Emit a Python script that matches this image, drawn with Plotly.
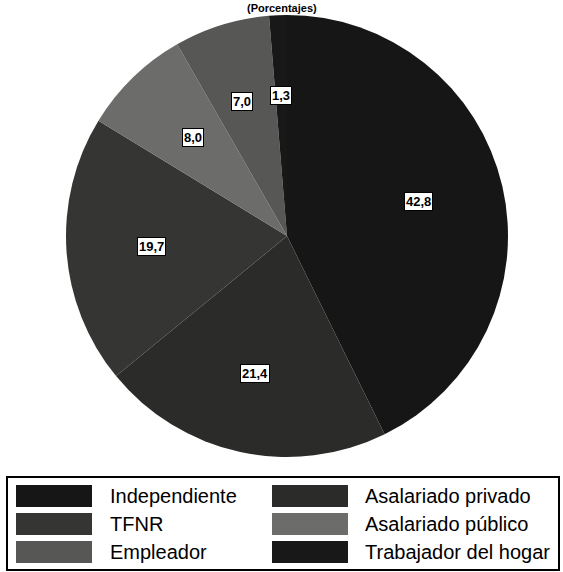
import plotly.graph_objects as go
import numpy as np

# slices, clockwise from 12 o'clock
labels = ['Independiente', 'Asalariado privado', 'TFNR',
          'Asalariado público', 'Empleador', 'Trabajador del hogar']
values = [42.8, 21.4, 19.7, 8.0, 7.0, 1.3]
colors = ['#161616', '#2b2b29', '#353533', '#6c6c6b', '#575756', '#181818']

# legend layout (column-major, as in the printed figure)
legend_cols = [['Independiente', 'TFNR', 'Empleador'],
               ['Asalariado privado', 'Asalariado público', 'Trabajador del hogar']]

W, H = 563, 572
FONT = 'Liberation Sans, Arial, sans-serif'

def px(x, y):
    return x / W, 1 - y / H

# pie position (pixels)
cx_px, cy_px, R = 287, 236, 221
dx0, dy0 = px(cx_px - R, cy_px + R)
dx1, dy1 = px(cx_px + R, cy_px - R)

fig = go.Figure()
fig.add_trace(go.Pie(
    labels=labels,
    values=values,
    sort=False,
    direction='clockwise',
    rotation=0,
    marker=dict(colors=colors, line=dict(width=0)),
    textinfo='none',
    hoverinfo='label+value',
    showlegend=False,
    domain=dict(x=[dx0, dx1], y=[dy0, dy1])
))

# value labels in white boxes, placed at each slice's mid-angle
vals = np.array(values)
cum = np.cumsum(vals) / vals.sum()
mids = (cum - vals / vals.sum() / 2) * 2 * np.pi
for v, a in zip(values, mids):
    lx = cx_px + 0.68 * R * np.sin(a)
    ly = cy_px - 0.68 * R * np.cos(a)
    x, y = px(lx, ly)
    fig.add_annotation(
        x=x, y=y, xref='paper', yref='paper',
        text=f'<b>{v:.1f}</b>'.replace('.', ','),
        showarrow=False,
        font=dict(family=FONT, size=13, color='black'),
        bgcolor='white', bordercolor='black', borderwidth=1, borderpad=1
    )

# title (mostly cut off in the scan)
fig.add_annotation(
    x=0.5, y=1, xref='paper', yref='paper',
    xanchor='center', yanchor='top',
    text='<b>(Porcentajes)</b>', showarrow=False,
    font=dict(family=FONT, size=11, color='black')
)

# custom legend box
fig.add_shape(type='rect', xref='paper', yref='paper',
              x0=7 / W, x1=559 / W, y0=1 - 570 / H, y1=1 - 477 / H,
              line=dict(color='black', width=2), fillcolor='white')

color_of = dict(zip(labels, colors))
sw_x = [(16, 92), (272, 348)]
txt_x = [108, 363]
row_y = [496, 524, 552]
for c, col in enumerate(legend_cols):
    for r, name in enumerate(col):
        x0, x1 = sw_x[c]
        fig.add_shape(type='rect', xref='paper', yref='paper',
                      x0=x0 / W, x1=x1 / W,
                      y0=1 - (row_y[r] + 11) / H, y1=1 - (row_y[r] - 11) / H,
                      line=dict(width=0), fillcolor=color_of[name])
        fig.add_annotation(
            x=txt_x[c] / W, y=1 - row_y[r] / H, xref='paper', yref='paper',
            xanchor='left', yanchor='middle', text=name, showarrow=False,
            font=dict(family=FONT, size=20, color='black')
        )

fig.update_layout(
    width=W, height=H,
    margin=dict(l=0, r=0, t=0, b=0),
    paper_bgcolor='white',
    plot_bgcolor='white',
    showlegend=False
)

# drop the page's default body margin so the figure sits at the window corner
fig.write_html('out.html', config={'displayModeBar': False},
               post_script="document.body.style.margin='0';")
